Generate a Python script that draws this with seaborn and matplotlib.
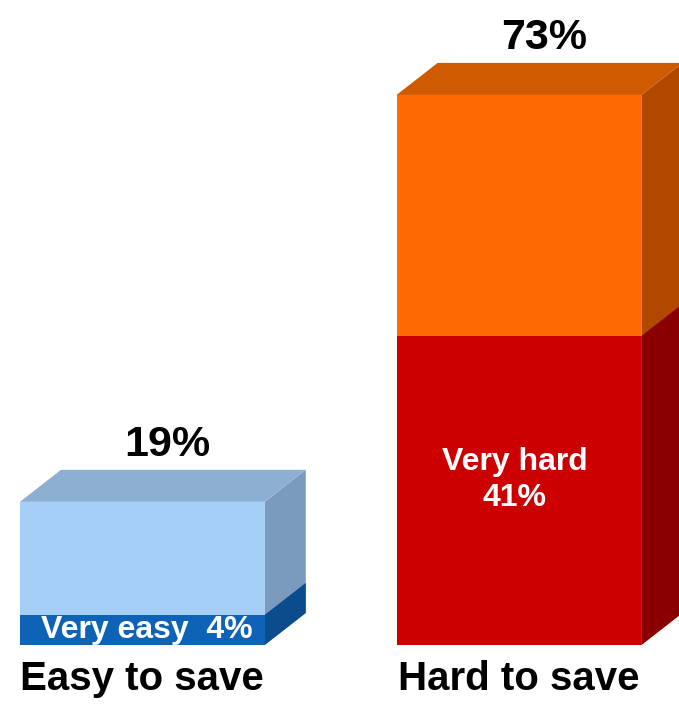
import matplotlib
matplotlib.use("Agg")
import matplotlib.pyplot as plt
import pandas as pd
import seaborn as sns
from matplotlib.patches import Polygon

# Share of respondents by how easy it is to save
categories = ["Easy to save", "Hard to save"]
total_pct = [19, 73]
very_pct = [4, 41]
very_labels = ["Very easy  4%", "Very hard\n41%"]

# Colours: front / top / side of each stacked segment
upper_front = ["#A6CFF7", "#FF6A00"]
upper_top = ["#8DAFD2", "#CF5A00"]
upper_side = ["#7A9BBE", "#B04800"]
lower_front = ["#0F63B6", "#CC0000"]
lower_side = ["#0A4C8C", "#8A0000"]

sns.set_theme(style="white")
plt.rcParams["font.family"] = ["Liberation Sans", "DejaVu Sans"]

fig = plt.figure(figsize=(6.79, 7.04), dpi=100)
ax = fig.add_axes([0, 59 / 704, 1, 645 / 704])

df = pd.DataFrame({"category": categories, "total": total_pct, "very": very_pct})

bar_w = 0.65
sns.barplot(data=df, x="category", y="total", hue="category", palette=upper_front,
            width=bar_w, saturation=1, errorbar=None, legend=False, ax=ax,
            edgecolor="none", linewidth=0, zorder=2)
sns.barplot(data=df, x="category", y="very", hue="category", palette=lower_front,
            width=bar_w, saturation=1, errorbar=None, legend=False, ax=ax,
            edgecolor="none", linewidth=0, zorder=3)

ax.set_xlim(-0.378, 1.425)
ax.set_ylim(0, 85.6)

# depth of the extruded box, in data units
dx, dy = 0.109, 4.25

for i, cat in enumerate(categories):
    x0 = i - bar_w / 2
    x1 = i + bar_w / 2
    tot = total_pct[i]
    lo = very_pct[i]
    # side of the whole column
    ax.add_patch(Polygon([(x1, 0), (x1 + dx, dy), (x1 + dx, tot + dy), (x1, tot)],
                         closed=True, facecolor=upper_side[i], edgecolor="none",
                         zorder=1, clip_on=True))
    # side of the lower segment
    ax.add_patch(Polygon([(x1, 0), (x1 + dx, dy), (x1 + dx, lo + dy), (x1, lo)],
                         closed=True, facecolor=lower_side[i], edgecolor="none",
                         zorder=1.5, clip_on=True))
    # top face
    ax.add_patch(Polygon([(x0, tot), (x0 + dx, tot + dy), (x1 + dx, tot + dy), (x1, tot)],
                         closed=True, facecolor=upper_top[i], edgecolor="none",
                         zorder=1.5, clip_on=True))
    # total label above the box
    ax.text(i + 0.066, tot + dy + 1.8, f"{tot}%", ha="center", va="baseline",
            fontsize=31, fontweight="bold", color="black")

# labels inside the lower segment
ax.text(0.012, very_pct[0] / 2, very_labels[0], ha="center", va="center",
        fontsize=23, fontweight="bold", color="white", zorder=5)
ax.text(0.989, very_pct[1] / 2 + 1.4, very_labels[1], ha="center", va="center",
        fontsize=23, fontweight="bold", color="white", linespacing=1.25, zorder=5)

ax.set_xlabel("")
ax.set_ylabel("")
ax.set_yticks([])
ax.tick_params(axis="x", length=0, pad=11, labelsize=29, colors="black")
for lbl in ax.get_xticklabels():
    lbl.set_fontweight("bold")
sns.despine(ax=ax, left=True, bottom=True)
ax.set_facecolor("white")

fig.savefig("out.png", dpi=100, facecolor="white")
